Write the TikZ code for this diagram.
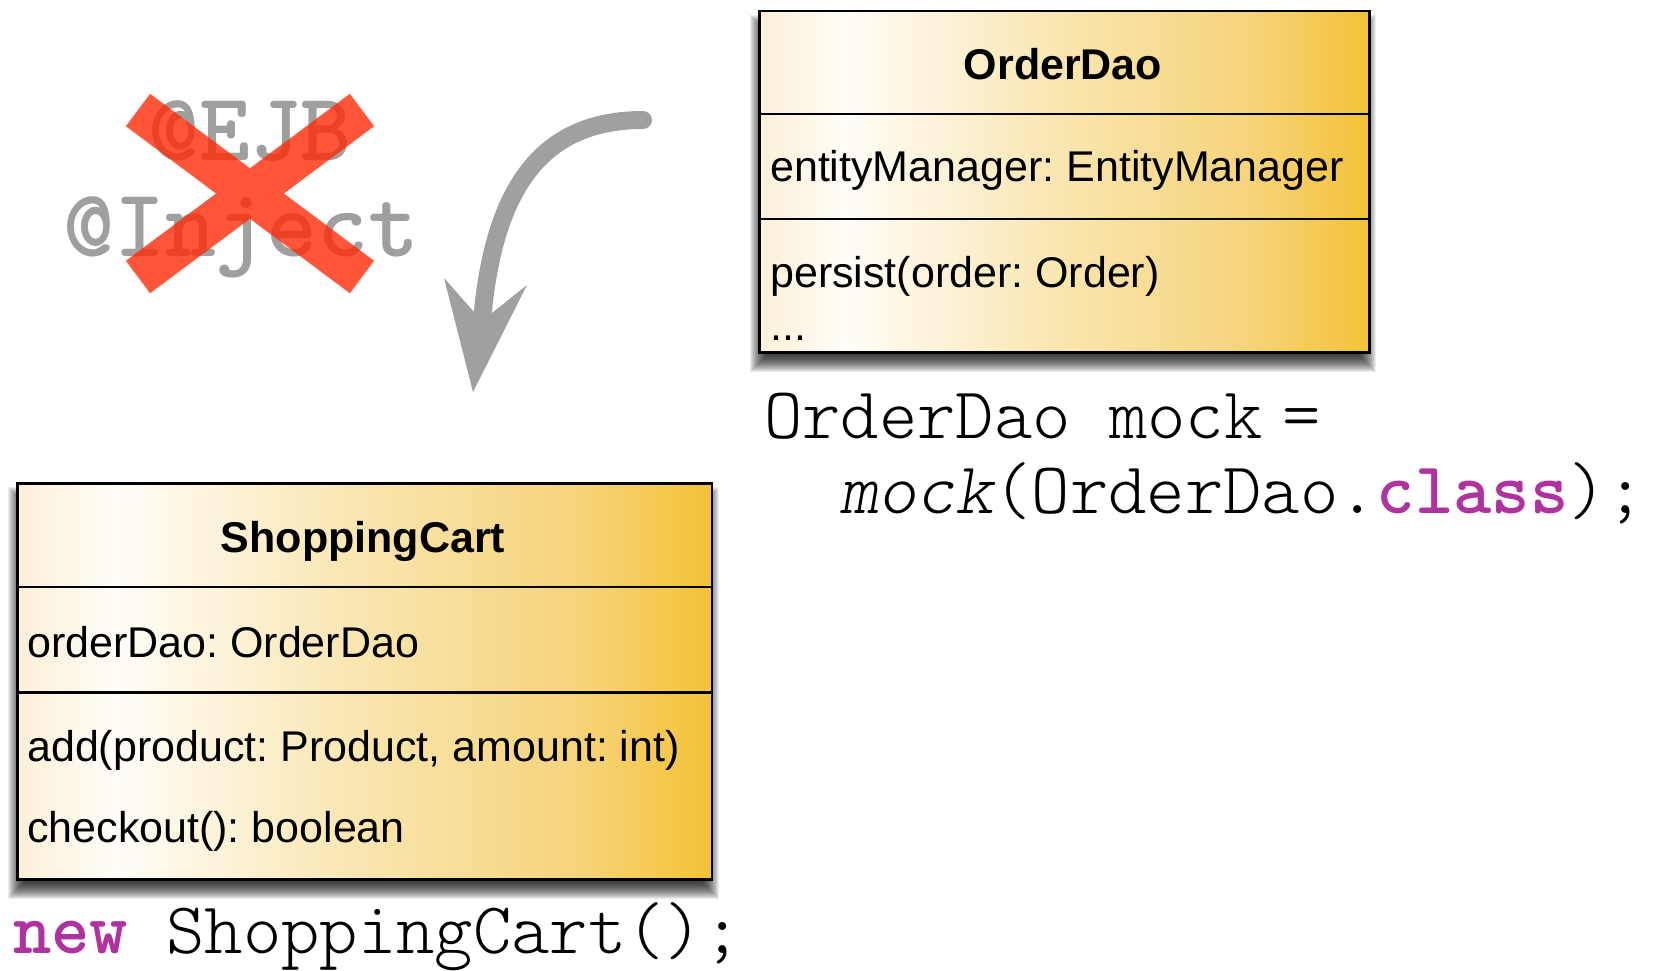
\documentclass[tikz,border=0pt]{standalone}
\usepackage{fontspec}
\setmainfont{Liberation Sans}
\newfontfamily\codefont{lmmonolt10-regular.otf}[
  ItalicFont=lmmonolt10-oblique.otf,
  BoldFont=lmmonolt10-bold.otf,
  BoldItalicFont=lmmonolt10-boldoblique.otf]
\usetikzlibrary{calc}
\frenchspacing

\definecolor{goldA}{HTML}{FBF0D8}
\definecolor{goldB}{HTML}{FFFDF8}
\definecolor{goldC}{HTML}{F9E5AE}
\definecolor{goldD}{HTML}{F6D47C}
\definecolor{goldE}{HTML}{F4C236}
\definecolor{keyword}{RGB}{176,50,160}
\definecolor{annotgray}{HTML}{9F9F9F}
\definecolor{arrowgray}{HTML}{A0A0A0}
\definecolor{crossred}{RGB}{255,43,8}

% the filled path is fitted to the 25bp..75bp band of the shading
\pgfdeclarehorizontalshading{umlgold}{100bp}{%
  color(0bp)=(goldA); color(25bp)=(goldA); color(32bp)=(goldB); color(50bp)=(goldC);
  color(65bp)=(goldD); color(75bp)=(goldE); color(100bp)=(goldE)}

% soft drop shadow under a box given by its corners
\newcommand\softshadow[4]{%
  \foreach \d in {-8,...,8}{%
    \fill[black,opacity=0.075] ({#1-\d},{#2+13-\d}) rectangle ({#3+\d},{#4+13+\d});
  }}

\begin{document}
\begin{tikzpicture}[x=1pt,y=-1pt,
  umlbox/.style={draw=black, line width=2.6, shading=umlgold, inner sep=0, anchor=north west},
  divider/.style={draw=black, line width=2.6},
  classname/.style={font=\fontsize{43}{50}\selectfont\bfseries, inner sep=0, anchor=base},
  member/.style={font=\fontsize{43}{50}\selectfont, inner sep=0, anchor=base west},
  code/.style={font=\codefont\fontsize{73}{80}\selectfont, inner sep=0, anchor=base west},
  annot/.style={font=\codefont\bfseries\fontsize{97}{100}\selectfont, text=annotgray, inner sep=0, anchor=base west},
  cross/.style={draw=crossred, opacity=0.8, line width=40.5},
  bendarrow/.style={draw=arrowgray, line width=18},
]
\useasboundingbox (0,0) rectangle (1653,970);

% shadows
\softshadow{758}{9.5}{1368}{351}
\softshadow{16}{482}{710.5}{878}

% OrderDao class
\node[umlbox, minimum width=610, minimum height=341.5] (orderdao) at (758,9.5) {};
\draw[divider] (orderdao.west |- 0,114) -- (orderdao.east |- 0,114);
\draw[divider] (orderdao.west |- 0,219) -- (orderdao.east |- 0,219);
\node[classname] (odname) at (1063,79) {OrderDao};
\node[member] (odattr) at (770,181) {entityManager: EntityManager};
\node[member] (odop) at (770,287) {persist(order: Order)};
\node[member] (odmore) at (770,340) {...};

% ShoppingCart class
\node[umlbox, minimum width=694.5, minimum height=396] (cart) at (16,482) {};
\draw[divider] (cart.west |- 0,587) -- (cart.east |- 0,587);
\draw[divider] (cart.west |- 0,692.5) -- (cart.east |- 0,692.5);
\node[classname] (cartname) at (363,552) {ShoppingCart};
\node[member] (cartattr) at (27,657) {orderDao: OrderDao};
\node[member] (cartadd) at (27,761) {add(product: Product, amount: int)};
\node[member] (cartcheck) at (27,842) {checkout(): boolean};

% code snippets
\node[code] (mockdecl) at (764,438) {OrderDao mock\hspace{20pt}=};
\node[code] (mockcall) at (840,513) {{\itshape mock}(OrderDao.\textbf{\textcolor{keyword}{class}});};
\node[code] (newcart) at (13,953) {\textbf{\textcolor{keyword}{new}} ShoppingCart();};

% discarded annotations
\node[annot] (ejb) at (148,160) {@EJB};
\node[annot] (inject) at (63,256) {@Inject};
\coordinate (xa) at (138,110);
\coordinate (xb) at (362,277);
\coordinate (xc) at (362,110);
\coordinate (xd) at (138,277);
\draw[cross] (xa) -- (xb) (xc) -- (xd);

% curved arrow
\coordinate (arrowtail) at (643,120);
\coordinate (arrowend) at (481,335);
\coordinate (arrowtip) at (473,392);
\coordinate (barbright) at (527,285);
\coordinate (notch) at (482,321);
\coordinate (barbleft) at (444,278);
\draw[bendarrow, line cap=round] (arrowtail) .. controls (540,120) and (490,190) .. (arrowend);
\fill[arrowgray] (arrowtip) -- (barbright) -- (notch) -- (barbleft) -- cycle;
\end{tikzpicture}
\end{document}
